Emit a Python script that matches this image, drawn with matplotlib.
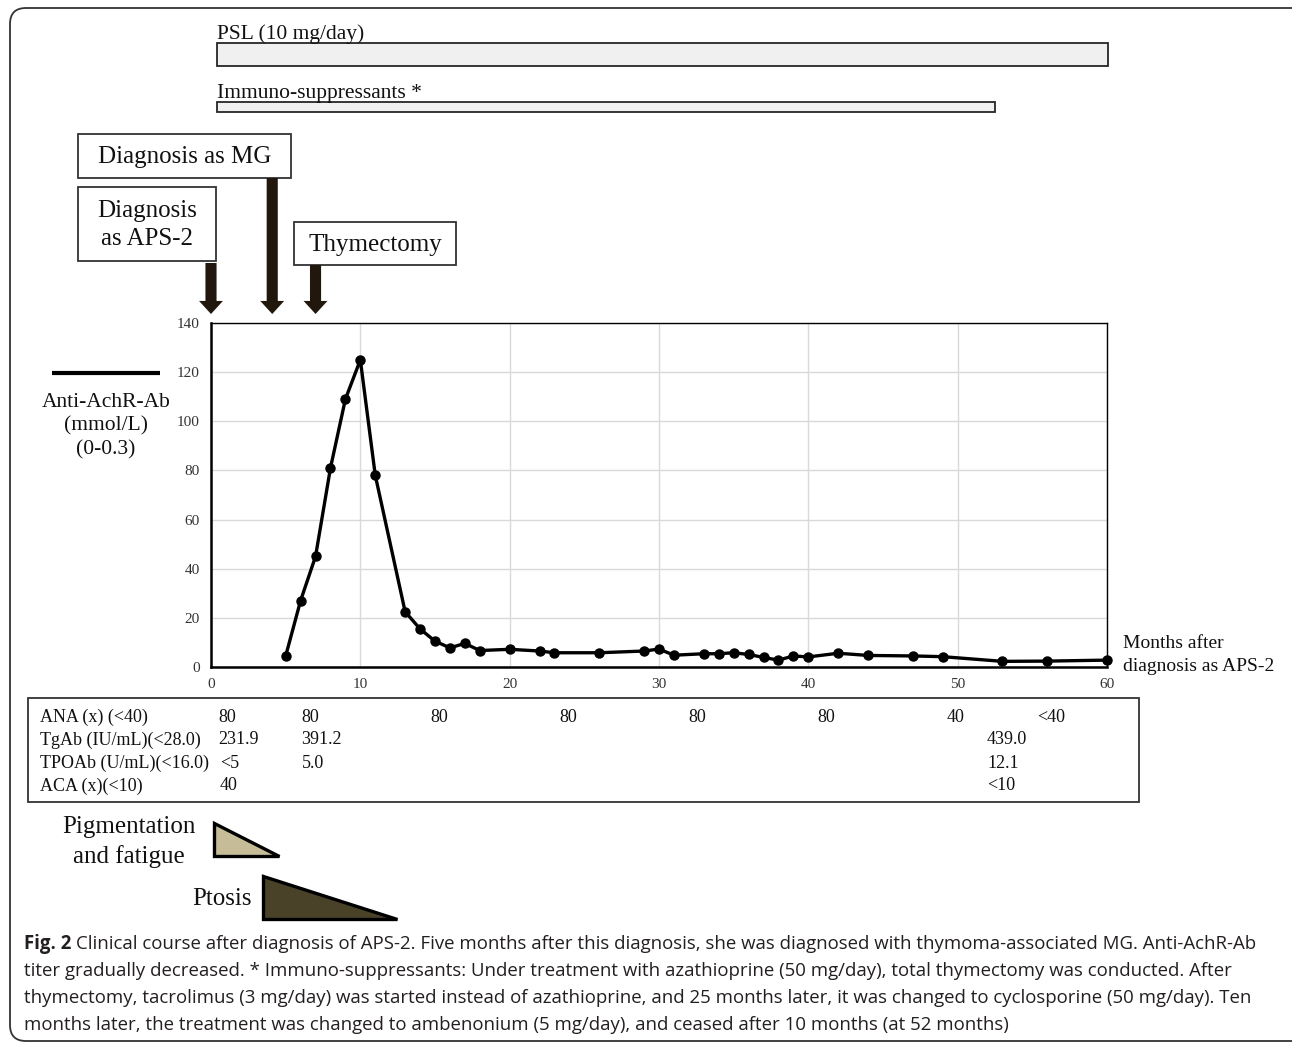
import matplotlib
matplotlib.use('Agg')
import matplotlib.pyplot as plt
import matplotlib.patches as mpatches
import matplotlib.transforms as mtransforms

plt.rcParams['font.family'] = 'Liberation Serif'

# Anti-AchR-Ab titer, months after diagnosis as APS-2
months = [5, 6, 7, 8, 9, 10, 11, 13, 14, 15, 16, 17, 18, 20, 22, 23, 26, 29, 30, 31,
          33, 34, 35, 36, 37, 38, 39, 40, 42, 44, 47, 49, 53, 56, 60]
titer = [4.5, 27, 45, 81, 109, 125, 78, 22.5, 15.5, 10.5, 7.8, 9.6, 6.7, 7.2, 6.5, 5.8, 5.8, 6.5, 7.3, 4.8,
         5.4, 5.4, 5.8, 5.1, 3.9, 2.8, 4.5, 4.1, 5.6, 4.7, 4.5, 4.2, 2.3, 2.4, 2.8]

# treatment periods (months)
treatments = ['PSL (10 mg/day)', 'Immuno-suppressants *']
treat_start = [0.4, 0.4]
treat_end = [60.05, 52.5]

# events marked with arrows (months)
event_labels = ['Diagnosis\nas APS-2', 'Diagnosis as MG', 'Thymectomy']
event_months = [0, 4.1, 7.0]

# lab table
table_rows = ['ANA (x) (<40)', 'TgAb (IU/mL)(<28.0)', 'TPOAb (U/mL)(<16.0)', 'ACA (x)(<10)']
ana_vals = ['80', '80', '80', '80', '80', '80', '40', '<40']
tgab_vals = ['231.9', '391.2', '439.0']
tpoab_vals = ['<5', '5.0', '12.1']
aca_vals = ['40', '<10']

caption = [
    "Clinical course after diagnosis of APS-2. Five months after this diagnosis, she was diagnosed with thymoma-associated MG. Anti-AchR-Ab",
    "titer gradually decreased. * Immuno-suppressants: Under treatment with azathioprine (50 mg/day), total thymectomy was conducted. After",
    "thymectomy, tacrolimus (3 mg/day) was started instead of azathioprine, and 25 months later, it was changed to cyclosporine (50 mg/day). Ten",
    "months later, the treatment was changed to ambenonium (5 mg/day), and ceased after 10 months (at 52 months)",
]

W, H = 1292, 1044
fig = plt.figure(figsize=(W / 100, H / 100), dpi=100)

# overlay in pixel coordinates
ov = fig.add_axes([0, 0, 1, 1])
ov.set_xlim(0, W)
ov.set_ylim(H, 0)
ov.axis('off')

# main plot area
L, R, T, B = 211, 1107, 323, 667
ax = fig.add_axes([L / W, 1 - B / H, (R - L) / W, (B - T) / H])
ax.plot(months, titer, color='black', lw=2.4, marker='o', ms=6.5, clip_on=False, zorder=3)
ax.set_xlim(0, 60)
ax.set_ylim(0, 140)
ax.set_xticks(range(0, 61, 10))
ax.set_yticks(range(0, 141, 20))
ax.grid(True, color='#d9d9d9', lw=1.0)
ax.set_axisbelow(True)
ax.tick_params(length=0, labelsize=11, colors='#333333', pad=8)
for s in ['left', 'bottom']:
    ax.spines[s].set_linewidth(1.8)
for s in ['top', 'right']:
    ax.spines[s].set_linewidth(1.0)

bt = mtransforms.blended_transform_factory(ax.transData, ov.transData)

# outer frame
ov.add_patch(mpatches.FancyBboxPatch((10, 8), 1300, 1033, boxstyle='round,pad=0,rounding_size=16',
                                     fc='none', ec='#333333', lw=1.3))

# treatment bars
bar_y = [43, 102]
bar_h = [22.5, 10]
text_y = [39, 98]
for lab, s, e, y, h, ty in zip(treatments, treat_start, treat_end, bar_y, bar_h, text_y):
    ov.add_patch(mpatches.Rectangle((s, y), e - s, h, transform=bt, fc='#f0f0f0', ec='#262626', lw=1.3))
    ov.text(s, ty, lab, transform=bt, fontsize=15.5, ha='left', va='baseline', color='#111111')

# event boxes and arrows
boxes = [(78, 187, 216, 261), (78, 134, 291, 178), (294, 222, 456, 265)]
arrow_top = [263, 178, 265]
for lab, m, (x0, y0, x1, y1), at in zip(event_labels, event_months, boxes, arrow_top):
    ov.add_patch(mpatches.Rectangle((x0, y0), x1 - x0, y1 - y0, fc='white', ec='#333333', lw=1.3))
    ov.text((x0 + x1) / 2, (y0 + y1) / 2 + 1, lab, fontsize=18, ha='center', va='center',
            linespacing=1.38, color='#111111')
    ov.annotate('', xy=(m, 314), xycoords=bt, xytext=(m, at), textcoords=bt,
                arrowprops=dict(arrowstyle='simple,head_length=0.47,head_width=0.86,tail_width=0.4',
                                mutation_scale=20, fc='#22170c', ec='none', shrinkA=0, shrinkB=0))

# series key
ov.plot([52, 160], [373, 373], color='black', lw=3, solid_capstyle='butt')
ov.text(106, 426, 'Anti-AchR-Ab\n(mmol/L)\n(0-0.3)', fontsize=15.5, ha='center', va='center',
        linespacing=1.3, color='#111111')

ov.text(1123, 655, 'Months after\ndiagnosis as APS-2', fontsize=14, ha='left', va='center',
        linespacing=1.39, color='#111111')

# lab table
ov.add_patch(mpatches.Rectangle((28, 698), 1111, 104, fc='none', ec='#333333', lw=1.3))
row_y = [717, 740, 763, 786]
row_vals = [ana_vals, tgab_vals, tpoab_vals, aca_vals]
row_x = [[218, 301, 430, 559, 688, 817, 947, 1037],
         [218, 301, 987],
         [220, 302, 987],
         [220, 987]]
for lab, y, vals, xs in zip(table_rows, row_y, row_vals, row_x):
    ov.text(40, y, lab, fontsize=13, ha='left', va='center', color='#111111')
    for v, x in zip(vals, xs):
        ov.text(x, y, v, fontsize=13, ha='left', va='center', color='#111111')

# symptom triangles
ov.add_patch(mpatches.Polygon([(214, 823), (214, 856), (279, 856)], closed=True,
                              fc='#c6bd98', ec='black', lw=2.4, joinstyle='miter'))
ov.add_patch(mpatches.Polygon([(263, 876), (263, 919), (397, 919)], closed=True,
                              fc='#4a4129', ec='black', lw=2.4, joinstyle='miter'))
ov.text(129, 842, 'Pigmentation\nand fatigue', fontsize=18, ha='center', va='center',
        linespacing=1.38, color='#111111')
ov.text(252, 899, 'Ptosis', fontsize=18, ha='right', va='center', color='#111111')

# caption
cap_font = dict(family='Open Sans', fontsize=13.4, color='#231f20')
cap_y = [944, 971, 998, 1025]
fig_lab = ov.text(24, cap_y[0], 'Fig. 2 ', fontweight='bold', ha='left', va='center', **cap_font)
renderer = fig.canvas.get_renderer()
w = fig_lab.get_window_extent(renderer).width
ov.text(24 + w, cap_y[0], caption[0], ha='left', va='center', **cap_font)
for line, y in zip(caption[1:], cap_y[1:]):
    ov.text(24, y, line, ha='left', va='center', **cap_font)

fig.savefig('out.png', dpi=100)
